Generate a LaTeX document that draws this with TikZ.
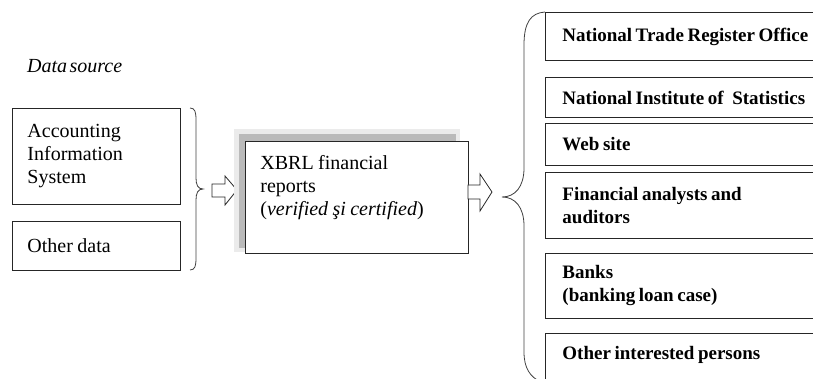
\documentclass[tikz,border=0pt]{standalone}
\usepackage{fontspec}
\setmainfont{Liberation Serif}
\newcommand\regfont{\fontsize{20}{23}\selectfont}
\newcommand\boldfnt{\fontsize{19}{23}\selectfont\bfseries}
\newcommand\itfont{\fontsize{20}{23}\selectfont\itshape\spaceskip=0.12em\relax}
\newcommand\regsp{\spaceskip=0.22em plus 0.05em minus 0.05em\xspaceskip=0.22em\relax}
\newcommand\boldsp{\spaceskip=0.19em plus 0.05em minus 0.03em\xspaceskip=0.19em\relax}
\begin{document}
\begin{tikzpicture}[x=1pt,y=-1pt,
  box/.style={draw=black!85, line width=0.9pt, fill=white, anchor=north west,
    inner xsep=15pt, inner ysep=0pt, align=left, font=\regfont,
    execute at begin node=\regsp},
  rbox/.style={box, inner xsep=17pt, minimum width=300pt, text width=266pt,
    font=\boldfnt, execute at begin node=\boldsp},
  barrow/.style={draw=black!85, line width=0.8pt, fill=white, line join=miter},
  brace/.style={draw=black!75, line width=0.8pt}]
\useasboundingbox (0,0) rectangle (813,379);
\clip (0,0) rectangle (813,379);

% data source
\node[font=\itfont, anchor=west, inner sep=0pt] (ds) at (27,66) {Data source};
\node[box, minimum height=96pt, text width=138pt] (ais) at (12,108) {Accounting\\Information\\System};
\node[box, minimum height=49pt, text width=138pt] (other) at (12,221) {Other data};

% left brace
\draw[brace] (190,108) .. controls (195,108) and (196,112) .. (196,120) -- (196,178)
  .. controls (196,185) and (198,189) .. (203,189)
  .. controls (198,189) and (196,193) .. (196,200) -- (196,258)
  .. controls (196,266) and (195,270) .. (190,270);

% arrow 1
\draw[barrow] (212,184) -- (225,184) -- (225,176) -- (237,190) -- (225,205) -- (225,197) -- (212,197) -- cycle;

% XBRL box with shadow
\fill[black!8] (234,129) rectangle (460,252);
\fill[black!27] (239,134) rectangle (456,248);
\node[box, minimum height=112pt, text width=193pt] (xbrl) at (245,141)
  {XBRL financial\\reports\\(\textit{verified şi certified})\\\mbox{}};

% arrow 2
\draw[barrow] (468,185) -- (480,185) -- (480,174) -- (492,192) -- (480,211) -- (480,199) -- (468,199) -- cycle;

% right brace
\draw[brace] (545,12) .. controls (531,13) and (524,22) .. (524,45) -- (524,168)
  .. controls (524,187) and (515,197) .. (502,197)
  .. controls (515,197) and (524,207) .. (524,226) -- (524,352)
  .. controls (524,368) and (530,377) .. (541,382);

% recipients
\node[rbox, minimum height=48pt] (r1) at (545,12) {National Trade Register Office};
\node[rbox, minimum height=40pt] (r2) at (545,77) {National Institute of\hspace{0.45em}Statistics};
\node[rbox, minimum height=42pt] (r3) at (545,123) {Web site};
\node[rbox, minimum height=66pt] (r4) at (545,172) {Financial analysts and\\auditors};
\node[rbox, minimum height=65pt] (r5) at (545,253) {Banks\\(banking loan case)};
\node[rbox, minimum height=62pt] (r6) at (545,333) {Other interested persons\\\mbox{}};
\end{tikzpicture}
\end{document}
